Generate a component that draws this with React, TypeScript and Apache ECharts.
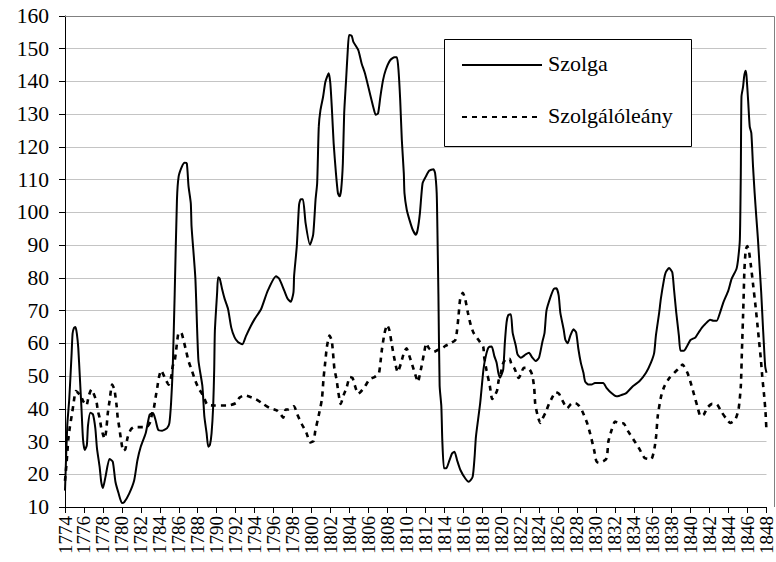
import React, { useEffect, useRef } from "react";
import * as echarts from "echarts";

// ---- axis ranges / tick labels ----
const xRange = { min: 1774, max: 1848, step: 2 };
const yRange = { min: 10, max: 160, step: 10 };
const seriesNames = ["Szolga", "Szolgálóleány"];

// ---- Szolga (solid) ----
const szolgaYears = [
  1774.0, 1774.24, 1774.45, 1774.7, 1774.8, 1774.95, 1775.1, 1775.25, 1775.4, 1775.56,
  1775.74, 1775.9, 1776.08, 1776.3, 1776.43, 1776.68, 1776.95, 1777.2, 1777.37, 1777.65,
  1777.82, 1778.0, 1778.27, 1778.69, 1779.04, 1779.32, 1779.66, 1780.01, 1780.25, 1780.77,
  1781.3, 1781.64, 1781.99, 1782.51, 1782.93, 1783.28, 1783.55, 1783.83, 1784.25, 1784.77,
  1785.01, 1785.19, 1785.36, 1785.57, 1785.81, 1785.99, 1786.33, 1786.61, 1786.85, 1787.03,
  1787.27, 1787.35, 1787.75, 1788.07, 1788.49, 1788.7, 1788.94, 1789.11, 1789.29, 1789.46,
  1789.63, 1789.74, 1789.81, 1790.05, 1790.15, 1790.33, 1790.57, 1790.85, 1791.2, 1791.54,
  1791.89, 1792.24, 1792.7, 1793.1, 1793.6, 1794.0, 1794.69, 1795.39, 1796.26, 1796.6,
  1797.13, 1797.47, 1797.82, 1798.1, 1798.17, 1798.45, 1798.69, 1798.86, 1799.1, 1799.38,
  1799.84, 1800.18, 1800.43, 1800.6, 1800.77, 1800.95, 1801.23, 1801.47, 1801.82, 1801.99,
  1802.16, 1802.34, 1802.58, 1802.79, 1802.96, 1803.13, 1803.31, 1803.45, 1803.65, 1803.83,
  1803.97, 1804.25, 1804.42, 1804.94, 1805.29, 1805.64, 1806.16, 1806.51, 1806.78, 1807.03,
  1807.27, 1807.55, 1807.83, 1808.31, 1808.76, 1809.01, 1809.18, 1809.36, 1809.53, 1809.74,
  1809.81, 1810.05, 1810.33, 1810.68, 1811.02, 1811.2, 1811.44, 1811.72, 1812.07, 1812.41,
  1812.86, 1813.04, 1813.21, 1813.28, 1813.39, 1813.52, 1813.7, 1813.8, 1813.98, 1814.22,
  1814.5, 1814.84, 1815.09, 1815.36, 1815.71, 1816.23, 1816.58, 1817.0, 1817.21, 1817.35,
  1817.8, 1818.14, 1818.39, 1818.67, 1819.01, 1819.29, 1819.53, 1819.71, 1819.88, 1820.06,
  1820.23, 1820.4, 1820.58, 1820.75, 1821.03, 1821.22, 1821.56, 1821.74, 1822.08, 1822.6,
  1822.95, 1823.3, 1823.65, 1824.0, 1824.34, 1824.59, 1824.79, 1825.21, 1825.56, 1825.84,
  1826.08, 1826.25, 1826.6, 1826.77, 1827.02, 1827.3, 1827.64, 1827.92, 1828.16, 1828.41,
  1828.69, 1828.86, 1829.21, 1829.55, 1829.9, 1830.77, 1831.12, 1831.64, 1832.16, 1832.5,
  1833.2, 1833.9, 1834.59, 1835.29, 1835.81, 1836.15, 1836.33, 1836.68, 1836.85, 1837.2,
  1837.37, 1837.72, 1838.06, 1838.24, 1838.48, 1838.76, 1838.93, 1839.28, 1839.63, 1839.98,
  1840.5, 1840.84, 1841.19, 1841.54, 1842.06, 1842.41, 1842.75, 1843.1, 1843.45, 1843.97,
  1844.32, 1844.84, 1845.01, 1845.19, 1845.29, 1845.36, 1845.53, 1845.64, 1845.78, 1845.88,
  1846.06, 1846.23, 1846.4, 1846.58, 1846.75, 1846.92, 1847.1, 1847.27, 1847.44, 1847.62,
  1847.86, 1848.0,
];
const szolgaValues = [
  15, 35, 43, 57, 63, 64.7, 65, 63, 58.6, 50,
  40, 30.7, 27.4, 28.8, 35, 38.8, 38.3, 34, 28, 22.3,
  17.7, 15.8, 19.2, 24.7, 23.8, 17.7, 14.1, 11.2, 11.5, 14.1,
  18.2, 24.3, 28.4, 32.5, 38.2, 38.7, 36.6, 33.6, 33.3, 34.1,
  35.6, 41.8, 52, 75, 103.9, 111, 114, 115.2, 115, 108,
  102.8, 95.7, 80, 55, 47, 37.7, 32.5, 28.4, 29, 32.5,
  40.7, 52, 63.8, 75.6, 80.2, 79.7, 76.6, 73.5, 70.5, 64.8,
  61.8, 60.4, 59.7, 62.3, 65.3, 67.4, 70.5, 76.1, 80.5, 79.7,
  76.1, 73.7, 72.7, 75.6, 80.7, 89.6, 102.3, 104, 104, 96.7,
  90.1, 93.2, 103.9, 108.9, 126.2, 131.3, 135.4, 139.9, 142.5, 139.4,
  131.3, 121.1, 112, 105.9, 104.9, 106.9, 115, 130.3, 140.4, 149.6,
  154.2, 153.9, 152.1, 149.6, 145.5, 142.5, 136.4, 132.3, 129.8, 130.3,
  135.4, 140.4, 143.5, 146.5, 147.4, 147.4, 143.5, 134.3, 122.2, 112,
  105.9, 100.8, 97.8, 94.7, 93.2, 94.7, 99.8, 108.9, 111, 112.7,
  113.2, 112, 105.9, 95.7, 75, 47, 40.7, 30.5, 21.8, 21.8,
  23.8, 26.4, 26.9, 24.3, 21.3, 18.7, 17.7, 19.2, 25.4, 31.5,
  41.8, 52, 56.1, 58.7, 59, 56.1, 54.1, 51, 49.5, 50.5,
  52, 60.2, 66.4, 68.6, 68.9, 63.3, 59.2, 56.6, 55.6, 56.6,
  57.1, 55.6, 54.6, 55.6, 60.2, 63.3, 70, 74.1, 76.6, 76.8,
  74.6, 69.4, 64.3, 61.2, 60, 62.3, 64.3, 63.3, 58.2, 54.1,
  51, 48.4, 47.4, 47.4, 47.9, 47.9, 46.4, 44.8, 43.8, 44,
  44.8, 46.9, 48.4, 51, 54.1, 57.1, 62.3, 69.4, 73.5, 79.7,
  81.7, 83, 81.7, 76.6, 69.4, 62.3, 57.7, 57.7, 59.2, 61,
  61.8, 63.3, 64.8, 65.9, 67.2, 66.9, 66.9, 69.4, 72.5, 76.1,
  79.7, 82.8, 85.8, 91.7, 112, 135.4, 138.4, 141.5, 143.3, 142,
  134.3, 126.2, 124.2, 114, 105.9, 98.8, 91.7, 83.5, 75.6, 65.3,
  53, 51,
];

// ---- Szolgálóleány (dashed) ----
const leanyYears = [
  1774.0, 1774.17, 1774.35, 1774.5, 1774.7, 1774.87, 1775.04, 1775.15, 1775.67, 1775.9,
  1776.26, 1776.5, 1776.78, 1777.3, 1777.47, 1777.65, 1777.82, 1778.0, 1778.17, 1778.34,
  1778.52, 1778.7, 1778.97, 1779.21, 1779.45, 1779.56, 1779.73, 1779.9, 1780.15, 1780.36,
  1780.6, 1780.95, 1781.3, 1782.34, 1782.7, 1783.0, 1783.2, 1783.38, 1783.55, 1783.73,
  1783.9, 1784.14, 1784.42, 1784.6, 1784.94, 1785.22, 1785.36, 1785.57, 1785.7, 1786.0,
  1786.26, 1786.5, 1786.78, 1787.03, 1787.37, 1787.72, 1788.07, 1788.6, 1789.0, 1789.8,
  1791.2, 1792.07, 1792.4, 1792.93, 1794.15, 1794.84, 1795.54, 1796.34, 1796.75, 1797.03,
  1797.28, 1797.52, 1798.15, 1798.5, 1799.0, 1799.46, 1799.88, 1800.23, 1800.4, 1800.75,
  1801.1, 1801.27, 1801.45, 1801.62, 1801.9, 1802.14, 1802.31, 1802.42, 1802.66, 1802.83,
  1803.08, 1803.42, 1803.7, 1804.05, 1804.33, 1804.57, 1804.92, 1805.16, 1805.61, 1806.13,
  1806.65, 1807.1, 1807.28, 1807.42, 1807.7, 1807.98, 1808.22, 1808.46, 1808.64, 1808.85,
  1809.09, 1809.43, 1809.78, 1810.03, 1810.3, 1810.72, 1811.0, 1811.24, 1811.41, 1811.62,
  1811.87, 1812.11, 1812.39, 1812.91, 1813.26, 1813.78, 1814.12, 1814.65, 1815.17, 1815.34,
  1815.51, 1815.69, 1815.97, 1816.21, 1816.49, 1816.73, 1817.08, 1817.77, 1818.12, 1818.22,
  1818.47, 1818.81, 1819.06, 1819.34, 1819.58, 1819.75, 1819.96, 1820.2, 1820.55, 1820.9,
  1821.07, 1821.42, 1821.87, 1822.11, 1822.39, 1822.81, 1823.16, 1823.33, 1823.5, 1823.6,
  1823.85, 1824.13, 1824.37, 1824.72, 1825.07, 1825.42, 1825.76, 1826.11, 1826.46, 1826.98,
  1827.4, 1827.85, 1828.2, 1828.54, 1829.06, 1829.41, 1829.83, 1830.04, 1830.28, 1830.8,
  1831.15, 1831.32, 1831.67, 1832.02, 1832.37, 1832.89, 1833.41, 1834.1, 1834.62, 1835.14,
  1835.84, 1836.19, 1836.36, 1836.53, 1836.88, 1837.23, 1837.75, 1838.27, 1838.8, 1839.14,
  1839.66, 1840.01, 1840.36, 1840.7, 1841.05, 1841.4, 1841.75, 1842.27, 1842.79, 1843.31,
  1843.83, 1844.18, 1844.7, 1845.05, 1845.29, 1845.4, 1845.57, 1845.67, 1845.81, 1845.98,
  1846.16, 1846.37, 1846.61, 1846.85, 1847.03, 1847.2, 1847.41, 1847.55, 1847.76, 1847.9,
  1848.0,
];
const leanyValues = [
  18, 23.6, 30.7, 34.2, 37.8, 41, 44.4, 45.4, 43.9, 42.4,
  41, 43.9, 45.9, 42.4, 39.3, 37.3, 34.2, 32.2, 30.9, 33.2,
  38.8, 42.4, 47.4, 45.9, 40.8, 37.3, 34.2, 30.7, 27.1, 27.6,
  31.2, 33.7, 34.4, 34.4, 34.6, 36, 38.8, 40.3, 43.4, 46.4,
  49.5, 51.7, 50.2, 49, 47.4, 50, 53, 54.6, 57.3, 63.2,
  63.2, 61, 57.6, 54.6, 51.8, 48.8, 46.4, 43.9, 41.3, 41,
  41, 41.8, 43.4, 44.1, 42.9, 41.6, 40.3, 39.5, 38.3, 37.3,
  39.8, 39.8, 40.8, 38.3, 35.2, 32.7, 29.7, 30.2, 33.2, 37.8,
  42.9, 49.2, 54.2, 58.8, 62.4, 60.8, 55.8, 52.2, 48.7, 45.1,
  41.5, 44.4, 46.4, 49.7, 49.4, 47.2, 44.6, 45.1, 46.7, 49,
  49.7, 50.7, 54.3, 57.9, 63, 65.6, 64, 59.9, 56.9, 53.8,
  51.2, 53.8, 57.4, 58.5, 56.4, 52.6, 50, 48.2, 50.2, 53.1,
  56.9, 60, 58.5, 57.4, 57.9, 58.5, 59.2, 60, 61, 63.6,
  68.3, 73.6, 75.4, 73.6, 69.5, 66.4, 63.3, 60.4, 58.9, 55.8,
  51.7, 47.1, 43, 44.1, 45.6, 48.7, 50.7, 53.8, 55.3, 55.3,
  53.8, 52.3, 49.4, 50.8, 52.5, 52.5, 51.3, 49.8, 46.2, 41.6,
  38, 35.7, 37, 39, 41.6, 43.6, 45.1, 44.6, 42.6, 40.2,
  41.5, 41.7, 41, 39.4, 35.8, 32.3, 27.2, 24.1, 23.5, 24,
  25, 30, 33.6, 36.1, 35.6, 35.6, 33.1, 30, 27.6, 25,
  24.6, 28.1, 31.7, 37.8, 43.8, 46.9, 49.4, 51, 52.5, 53.5,
  51, 47.9, 44.3, 40.8, 37.7, 38.3, 40.3, 41.5, 41.3, 38.8,
  36.7, 35.7, 36.7, 39.8, 46.9, 57, 72.3, 82.4, 88.5, 89.7,
  88, 83.4, 77.3, 71.2, 66.1, 61.1, 55, 49.9, 43.8, 38.8,
  33,
];

const FONT = "Liberation Serif";
const GRID = { left: 65, top: 16, width: 710, height: 491 };

const pairs = (xs: number[], ys: number[]) => xs.map((x, i) => [x, ys[i]]);

export default function App() {
  const ref = useRef<HTMLDivElement>(null);

  useEffect(() => {
    document.body.style.margin = "0";
    if (!ref.current) return;
    const chart = echarts.init(ref.current, null, { renderer: "svg" });

    const legendX = 444;
    const legendY = 39;
    const row1 = 65;
    const row2 = 117;

    const option: any = {
      animation: false,
      backgroundColor: "#ffffff",
      grid: { ...GRID, containLabel: false },
      xAxis: {
        type: "value",
        min: xRange.min,
        max: xRange.max,
        interval: xRange.step,
        axisLine: { show: true, lineStyle: { color: "#000", width: 1 } },
        axisTick: { show: true, length: 6, lineStyle: { color: "#000", width: 1 } },
        axisLabel: {
          rotate: 90,
          fontSize: 19,
          lineHeight: 17,
          fontFamily: FONT,
          color: "#000",
          margin: 9,
          showMinLabel: true,
          showMaxLabel: true,
          formatter: (v: number) => String(v),
        },
        splitLine: { show: false },
      },
      yAxis: {
        type: "value",
        min: yRange.min,
        max: yRange.max,
        interval: yRange.step,
        axisLine: { show: true, lineStyle: { color: "#000", width: 1 } },
        axisTick: { show: true, length: 6, lineStyle: { color: "#000", width: 1 } },
        axisLabel: { fontSize: 21.5, fontFamily: FONT, color: "#000", margin: 16 },
        splitLine: { show: true, lineStyle: { color: "#c4c4c4", width: 1 } },
      },
      series: [
        {
          name: seriesNames[0],
          type: "line",
          data: pairs(szolgaYears, szolgaValues),
          symbol: "none",
          smooth: 0.2,
          lineStyle: { color: "#000", width: 2 },
          z: 3,
        },
        {
          name: seriesNames[1],
          type: "line",
          data: pairs(leanyYears, leanyValues),
          symbol: "none",
          smooth: 0.2,
          lineStyle: { color: "#000", width: 2.6, type: [5, 5] },
          z: 4,
        },
      ],
      graphic: [
        {
          type: "polyline",
          z: 10,
          silent: true,
          shape: {
            points: [
              [GRID.left, GRID.top + 0.5],
              [GRID.left + GRID.width - 0.5, GRID.top + 0.5],
              [GRID.left + GRID.width - 0.5, GRID.top + GRID.height],
            ],
          },
          style: { stroke: "#808080", lineWidth: 1, fill: "none" },
        },
        {
          type: "rect",
          z: 20,
          shape: { x: legendX + 0.5, y: legendY + 0.5, width: 247, height: 107 },
          style: { fill: "#ffffff", stroke: "#000", lineWidth: 1 },
        },
        {
          type: "line",
          z: 21,
          shape: { x1: 462, y1: row1, x2: 542, y2: row1 },
          style: { stroke: "#000", lineWidth: 2 },
        },
        {
          type: "line",
          z: 21,
          shape: { x1: 462, y1: row2, x2: 542, y2: row2 },
          style: { stroke: "#000", lineWidth: 2, lineDash: [5, 5] },
        },
        {
          type: "text",
          z: 21,
          x: 548,
          y: row1 - 1.5,
          style: {
            text: seriesNames[0],
            font: "22px 'Liberation Serif'",
            fill: "#000",
            align: "left",
            verticalAlign: "middle",
          },
        },
        {
          type: "text",
          z: 21,
          x: 548,
          y: row2 - 1.5,
          style: {
            text: seriesNames[1],
            font: "22px 'Liberation Serif'",
            fill: "#000",
            align: "left",
            verticalAlign: "middle",
          },
        },
      ],
    };

    chart.setOption(option);
    return () => chart.dispose();
  }, []);

  return (
    <div
      ref={ref}
      style={{ position: "absolute", left: 0, top: 0, width: 776, height: 562, background: "#fff" }}
    />
  );
}
